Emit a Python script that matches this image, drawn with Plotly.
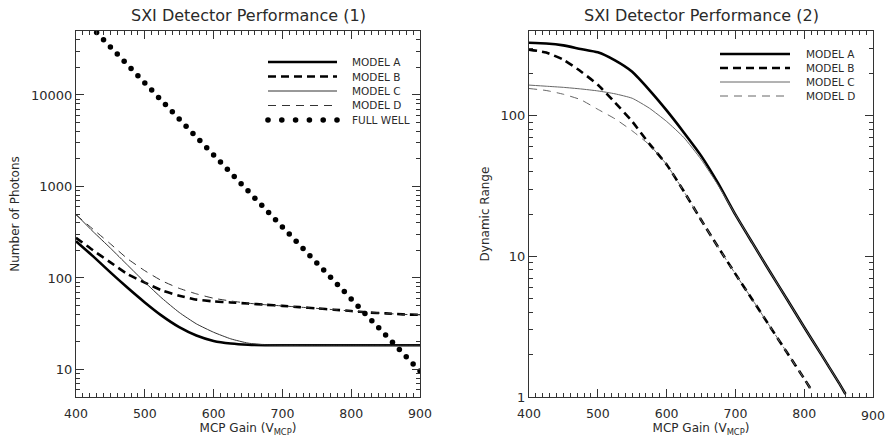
import plotly.graph_objects as go

# ---------------- data ----------------
gain = [400, 425, 450, 475, 500, 525, 550, 575, 600, 625, 650, 675, 700,
        725, 750, 775, 800, 825, 850, 875, 900]
fw_gain = list(range(400, 901, 10))
full_well = [82000, 68500, 57000, 48000, 40000, 33500, 28000, 23300, 19500, 16200,
             13500, 11300, 9400, 7850, 6550, 5470, 4560, 3800, 3180, 2650,
             2210, 1845, 1540, 1285, 1070, 895, 745, 622, 519, 433,
             361, 302, 252, 210, 175, 146, 122, 102, 85, 71,
             59, 49, 41, 34, 28.5, 23.8, 19.8, 16.5, 13.8, 11.5, 9.6]

photons_a = [252, 172, 115, 78, 54, 38.5, 29, 23.5, 20.5, 19.2, 18.6, 18.4,
             18.4, 18.4, 18.4, 18.4, 18.4, 18.4, 18.4, 18.4, 18.4]
photons_b = [275, 200, 148, 110, 89, 73, 64, 58, 55.5, 54, 52.5, 51, 49.5,
             48, 46.5, 45, 43.5, 42, 41, 40, 39.5]
photons_c = [495, 320, 212, 138, 90, 60, 42, 31.5, 25.5, 21.6, 19.4, 18.6,
             18.4, 18.4, 18.4, 18.4, 18.4, 18.4, 18.4, 18.4, 18.4]
photons_d = [490, 340, 236, 162, 120, 93, 77, 67, 60, 56, 53, 51, 49.5,
             48, 46.5, 45, 43.5, 42, 41, 40, 39.5]

gain_ac = [400, 425, 450, 475, 500, 525, 550, 575, 600, 625, 650, 675, 700,
           725, 750, 775, 800, 825, 850, 860]
gain_bd = [400, 425, 450, 475, 500, 525, 550, 575, 600, 625, 650, 675, 700,
           725, 750, 775, 800, 810]
range_a = [330, 326, 316, 298, 282, 247, 205, 152, 109, 76, 52, 33, 19.8,
           12.4, 7.8, 4.95, 3.13, 2.0, 1.27, 1.05]
range_c = [165, 162, 159, 155, 150, 143, 133, 113, 91, 70, 49, 32, 19.8,
           12.4, 7.8, 4.95, 3.13, 2.0, 1.27, 1.05]
range_b = [295, 281, 250, 207, 166, 124, 91, 63, 45, 29, 18.2, 11.6, 7.5,
           4.9, 3.18, 2.07, 1.35, 1.13]
range_d = [156, 151, 142, 130, 111, 95, 78, 62, 45, 29, 18.2, 11.6, 7.5,
           4.9, 3.18, 2.07, 1.35, 1.13]

x_ticks = [400, 500, 600, 700, 800, 900]
x_ticktext = ["400", "500", "600", "700", "800", "900"]
y1_ticks = [10, 100, 1000, 10000]
y1_ticktext = ["10", "100", "1000", "10000"]
y2_ticks = [1, 10, 100]
y2_ticktext = ["1", "10", "100"]

titles = ["SXI Detector Performance (1)", "SXI Detector Performance (2)"]
model_names = ["MODEL A", "MODEL B", "MODEL C", "MODEL D"]
full_well_name = "FULL WELL"

# ---------------- layout geometry (pixels) ----------------
FONT = "DejaVu Sans"
TXT = "#2a2a2a"
AX = "#333333"
W, H = 885, 441
ML, MR, MT, MB = 76, 12, 31, 44
PW, PH = W - ML - MR, H - MT - MB


def px(x):
    return (x - ML) / PW


def py(y):
    return (H - MB - y) / PH


thick = 2.6
thin = 1.0
left_styles = [
    dict(color="black", width=thick, dash="solid"),
    dict(color="black", width=thick, dash="8px,5px"),
    dict(color="#333333", width=thin, dash="solid"),
    dict(color="#333333", width=thin, dash="8px,6px"),
]
right_styles = [
    dict(color="black", width=thick, dash="solid"),
    dict(color="black", width=thick, dash="8px,5px"),
    dict(color="#666666", width=thin, dash="solid"),
    dict(color="#666666", width=thin, dash="8px,6px"),
]

fig = go.Figure()

for name, ys, st in zip(model_names, [photons_a, photons_b, photons_c, photons_d], left_styles):
    fig.add_trace(go.Scatter(x=gain, y=ys, mode="lines", name=name,
                             line=dict(st, shape="spline", smoothing=0.5),
                             xaxis="x", yaxis="y", showlegend=False))
fig.add_trace(go.Scatter(x=fw_gain, y=full_well, mode="markers", name=full_well_name,
                         marker=dict(color="black", size=5.5),
                         xaxis="x", yaxis="y", showlegend=False))

for name, xs, ys, st in zip(model_names, [gain_ac, gain_bd, gain_ac, gain_bd],
                            [range_a, range_b, range_c, range_d], right_styles):
    fig.add_trace(go.Scatter(x=xs, y=ys, mode="lines", name=name,
                             line=dict(st, shape="spline", smoothing=0.5),
                             xaxis="x2", yaxis="y2", showlegend=False))

xdom1 = [0, 344 / PW]
xdom2 = [(529 - ML) / PW, 1]

axis_common = dict(showline=True, linecolor=AX, linewidth=1, mirror="allticks",
                   ticks="inside", tickcolor=AX, showgrid=False, zeroline=False,
                   automargin=False, ticklabeloverflow="allow",
                   tickfont=dict(family=FONT, size=13, color=TXT))

xtick_font = dict(family=FONT, size=12.5, color=TXT)
xax = dict(axis_common, range=[400, 900], tickmode="array", tickvals=x_ticks,
           ticklen=8, ticklabelstandoff=5,
           tickfont=xtick_font,
           minor=dict(ticks="inside", ticklen=4, dtick=10, tickcolor=AX, showgrid=False),
           title=dict(text="MCP Gain (V<sub>MCP</sub>)", font=dict(family=FONT, size=12, color=TXT),
                      standoff=3))

ytitle_font = dict(family=FONT, size=12, color=TXT)

# ---------------- manual legends ----------------
shapes = []
annotations = []


def legend_block(names, styles, rows, x0, x1, xt):
    for name, st, yy in zip(names, styles, rows):
        shapes.append(dict(type="line", xref="paper", yref="paper",
                           x0=px(x0), x1=px(x1), y0=py(yy), y1=py(yy),
                           line=dict(color=st["color"], width=st["width"], dash=st["dash"])))
        annotations.append(dict(text=name, xref="paper", yref="paper", x=px(xt), y=py(yy),
                                xanchor="left", yanchor="middle", showarrow=False,
                                font=dict(family=FONT, size=10.5, color=TXT)))


left_rows = [62, 76.5, 91, 105.5, 120]
legend_block(model_names, left_styles, left_rows[:4], 268, 337, 350)
# full well legend entry: dotted sample
for i in range(6):
    cx = 268 + i * 13.8
    r = 2.8
    shapes.append(dict(type="circle", xref="paper", yref="paper",
                       x0=px(cx - r), x1=px(cx + r), y0=py(left_rows[4] - r), y1=py(left_rows[4] + r),
                       fillcolor="black", line=dict(width=0)))
annotations.append(dict(text=full_well_name, xref="paper", yref="paper", x=px(350), y=py(left_rows[4]),
                        xanchor="left", yanchor="middle", showarrow=False,
                        font=dict(family=FONT, size=10.5, color=TXT)))

right_rows = [54, 68, 82, 96]
legend_block(model_names, right_styles, right_rows, 720, 790, 804)

# titles
for t, dom in zip(titles, [xdom1, xdom2]):
    annotations.append(dict(text=t, x=(dom[0] + dom[1]) / 2, y=1, yshift=16, xref="paper", yref="paper",
                            xanchor="center", yanchor="middle", showarrow=False,
                            font=dict(family=FONT, size=16, color=TXT)))

# the last tick label of the right panel sits on the page edge, where plotly
# may drop it; it is written as a text pinned to that tick value instead
x2_ticktext = x_ticktext[:-1] + [""]
annotations.append(dict(text=x_ticktext[-1], x=x_ticks[-1], xref="x2", y=0, yref="paper",
                        xanchor="center", yanchor="top", yshift=-9, showarrow=False,
                        font=xtick_font))

fig.update_layout(
    width=W, height=H, margin=dict(l=ML, r=MR, t=MT, b=MB, autoexpand=False),
    paper_bgcolor="white", plot_bgcolor="white",
    showlegend=False,
    xaxis=dict(xax, domain=xdom1, anchor="y", ticktext=x_ticktext),
    xaxis2=dict(xax, domain=xdom2, anchor="y2", ticktext=x2_ticktext),
    yaxis=dict(axis_common, type="log", domain=[0, 1], anchor="x",
               range=[0.699, 4.699], tickmode="array", tickvals=y1_ticks, ticktext=y1_ticktext,
               ticklen=8, minor=dict(ticks="inside", ticklen=4, dtick="D1", tickcolor=AX),
               title=dict(text="Number of Photons", font=ytitle_font, standoff=8)),
    yaxis2=dict(axis_common, type="log", domain=[0, 1], anchor="x2",
                range=[0, 2.602], tickmode="array", tickvals=y2_ticks, ticktext=y2_ticktext,
                ticklen=8, minor=dict(ticks="inside", ticklen=4, dtick="D1", tickcolor=AX),
                title=dict(text="Dynamic Range", font=ytitle_font, standoff=8)),
    shapes=shapes,
    annotations=annotations,
)

fig.write_html("out.html")
